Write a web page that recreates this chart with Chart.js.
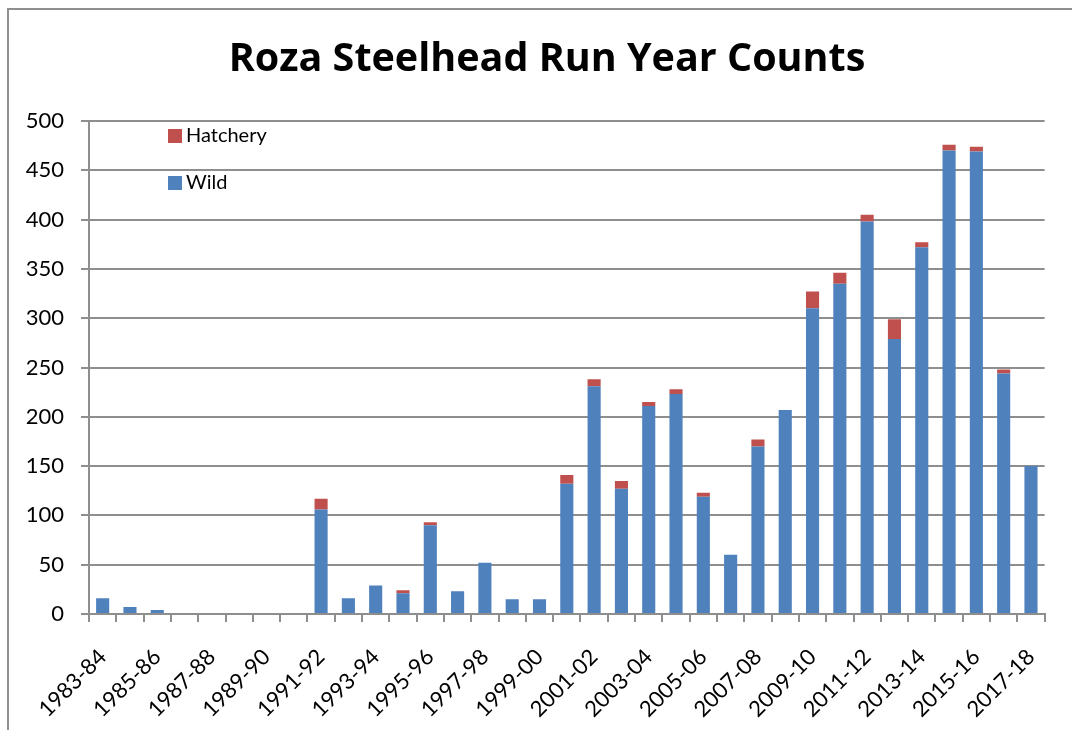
<!DOCTYPE html>
<html><head><meta charset="utf-8">
<script src="https://cdn.jsdelivr.net/npm/chart.js@4/dist/chart.umd.min.js"></script>
<style>
html,body{margin:0;padding:0;background:#fff;}
#wrap{position:relative;width:1072px;height:730px;overflow:hidden;background:#fff;}
#frame{position:absolute;left:7px;top:8px;width:1200px;height:800px;border-left:2px solid #8f8f8f;border-top:2px solid #8f8f8f;}
canvas{position:absolute;left:0;top:0;}
</style></head><body>
<div id="wrap"><div id="frame"></div><canvas id="c" width="1072" height="730"></canvas></div>
<script>
const titleText = 'Roza Steelhead Run Year Counts';
const categories = ['1983-84','1984-85','1985-86','1986-87','1987-88','1988-89','1989-90','1990-91','1991-92','1992-93','1993-94','1994-95','1995-96','1996-97','1997-98','1998-99','1999-00','2000-01','2001-02','2002-03','2003-04','2004-05','2005-06','2006-07','2007-08','2008-09','2009-10','2010-11','2011-12','2012-13','2013-14','2014-15','2015-16','2016-17','2017-18'];
const wild = [16,7,4,0,0,0,0,0,106,16,29,21,90,23,52,15,15,132,231,127,211,223,119,60,170,207,310,335,398,279,372,470,469,244,150];
const hatchery = [0,0,0,0,0,0,0,0,11,0,0,3,3,0,0,0,0,9,7,8,4,5,4,0,7,0,17,11,7,20,5,6,5,4,0];
const yTickValues = [0,50,100,150,200,250,300,350,400,450,500];
const seriesNames = ['Wild','Hatchery'];
const seriesColors = ['#4F81BD','#C0504D'];

const FONT = 'Lato';
const TITLE_FONT = 'bold 39.5px "Open Sans"';
const gridColor = '#8e8e8e';

const titlePlugin = {
  id: 'customTitle',
  afterDraw(chart) {
    const ctx = chart.ctx;
    ctx.save();
    ctx.font = TITLE_FONT;
    ctx.fillStyle = '#000';
    ctx.textAlign = 'center';
    ctx.textBaseline = 'alphabetic';
    ctx.fillText(titleText, 547, 71);
    ctx.restore();
  }
};

const legendPlugin = {
  id: 'customLegend',
  afterDraw(chart) {
    const ctx = chart.ctx;
    const a = chart.chartArea;
    const order = [1, 0];
    ctx.save();
    ctx.font = '20px ' + FONT;
    ctx.textBaseline = 'middle';
    ctx.textAlign = 'left';
    order.forEach((di, i) => {
      const ds = chart.data.datasets[di];
      const x = a.left + 79;
      const y = a.top + 8 + i * 47;
      ctx.fillStyle = ds.backgroundColor;
      ctx.fillRect(x, y, 14, 14);
      ctx.fillStyle = '#000';
      ctx.fillText(ds.label, x + 18, y + 7);
    });
    ctx.restore();
  }
};

new Chart(document.getElementById('c'), {
  type: 'bar',
  data: {
    labels: categories,
    datasets: [
      { label: seriesNames[0], data: wild, backgroundColor: seriesColors[0], borderWidth: 0 },
      { label: seriesNames[1], data: hatchery, backgroundColor: seriesColors[1], borderWidth: 0 }
    ]
  },
  options: {
    responsive: false,
    animation: false,
    layout: { padding: { left: 0, right: 25, top: 121, bottom: 0 } },
    datasets: { bar: { categoryPercentage: 1, barPercentage: 0.48 } },
    plugins: {
      legend: { display: false },
      tooltip: { enabled: false },
      title: { display: false }
    },
    scales: {
      x: {
        stacked: true,
        offset: true,
        grid: { display: true, drawOnChartArea: false, drawTicks: true, tickLength: 8, color: gridColor, lineWidth: 2, offset: true },
        border: { display: true, color: gridColor, width: 2 },
        ticks: {
          autoSkip: false,
          minRotation: 45, maxRotation: 45,
          color: '#000',
          font: { family: FONT, size: 22 },
          padding: 22,
          callback: function(v, i) { return i % 2 === 0 ? categories[i] : ''; }
        },
        afterFit(scale) { scale.height = 116; }
      },
      y: {
        stacked: true,
        min: 0, max: 500,
        afterBuildTicks(scale) { scale.ticks = yTickValues.map(v => ({ value: v })); },
        grid: { color: gridColor, lineWidth: 2, tickLength: 8, drawTicks: true },
        border: { display: true, color: gridColor, width: 2 },
        ticks: { color: '#000', font: { family: FONT, size: 22 }, padding: 17 },
        afterFit(scale) { scale.width = 89; }
      }
    }
  },
  plugins: [titlePlugin, legendPlugin]
});
</script>
</body></html>
